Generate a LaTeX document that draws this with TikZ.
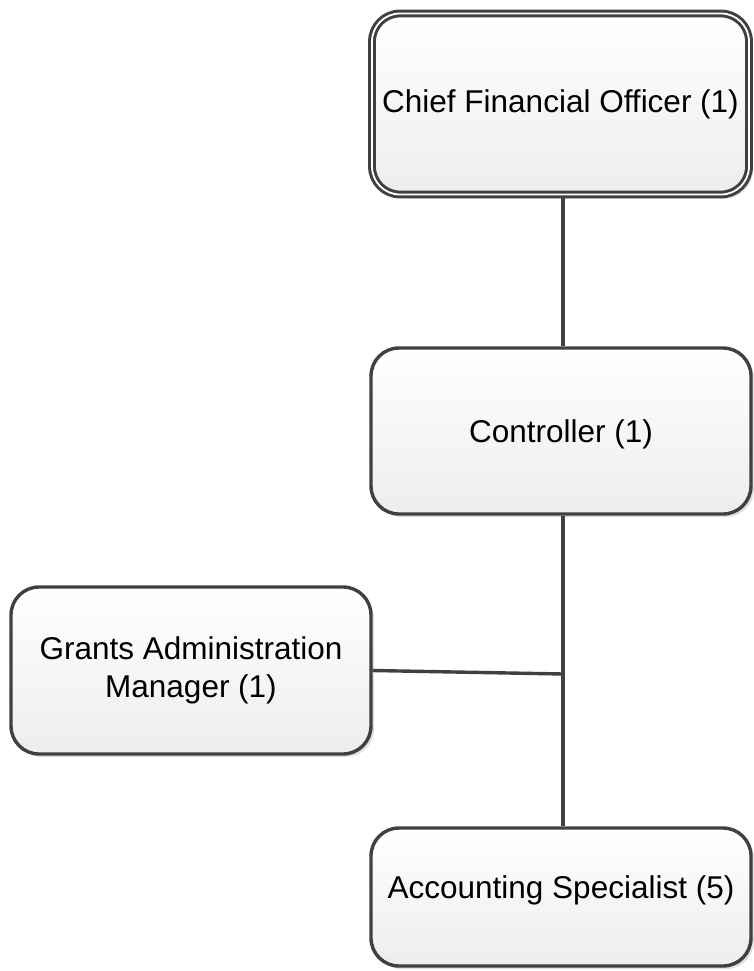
\documentclass[tikz,border=0pt]{standalone}
\usepackage{fontspec}
\setmainfont{Liberation Sans}
\usetikzlibrary{shadows}
\definecolor{edgegray}{HTML}{404040}
\begin{document}
\begin{tikzpicture}[x=1pt,y=-1pt,
  box/.style={draw=edgegray, line width=3.4pt, rounded corners=28pt,
    top color=white, bottom color=black!7,
    drop shadow={shadow xshift=3pt,shadow yshift=-3pt,fill=black!12,opacity=1},
    inner sep=0pt, align=center,
    font=\fontsize{31.5}{37.5}\selectfont},
  oneline/.style={text height=22.6pt, text depth=0pt},
  doublebox/.style={double=white, line width=3pt, double distance=1.8pt,
    drop shadow={shadow xshift=4pt,shadow yshift=-4pt,fill=black!12,opacity=1}},
  link/.style={draw=edgegray, line width=3.4pt}]
\useasboundingbox (0,0) rectangle (753,971);

% positions of the org chart boxes
\node[box, oneline, doublebox, text depth=6pt, minimum width=377pt, minimum height=181pt]
  (cfo) at (560.5,104) {Chief Financial Officer (1)};
\node[box, oneline, minimum width=380pt, minimum height=166pt]
  (ctrl) at (561,431) {Controller (1)};
\node[box, minimum width=360pt, minimum height=167pt]
  (grants) at (191,670.5) {Grants Administration\\Manager (1)};
\node[box, oneline, text depth=19pt, minimum width=380pt, minimum height=138pt]
  (acct) at (561,897) {Accounting Specialist (5)};

% reporting lines
\coordinate (junction) at (563,674);
\draw[link] (cfo.south -| junction) -- (ctrl.north -| junction);
\draw[link] (ctrl.south -| junction) -- (acct.north -| junction);
\draw[link] (grants.east) -- (junction);
\end{tikzpicture}
\end{document}
